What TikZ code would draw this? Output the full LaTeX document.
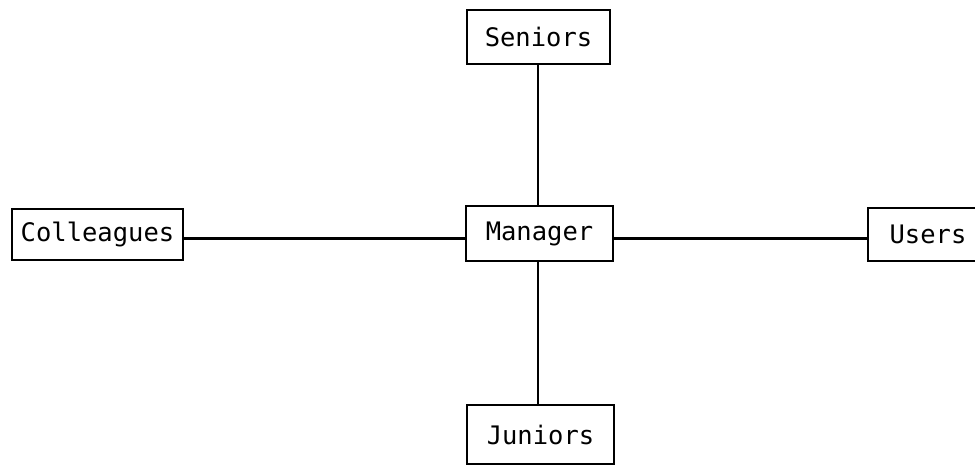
\documentclass[tikz,border=0pt]{standalone}
\usepackage{fontspec}
\setmonofont{DejaVu Sans Mono}
\begin{document}
\begin{tikzpicture}[x=1pt,y=-1pt,
    role/.style={draw, line width=2.6pt, inner sep=0pt, align=center,
      font=\ttfamily\fontsize{25.5}{30}\selectfont},
    link/.style={line width=2.6pt}]
  \useasboundingbox (0,0) rectangle (975,468);
  \clip (0,0) rectangle (975,468);

  % boxes
  \node[role, minimum width=143pt, minimum height=54pt] (seniors) at (538.5,37) {Seniors};
  \node[role, minimum width=147pt, minimum height=55pt] (manager) at (539.5,233.5) {Manager};
  \node[role, minimum width=171pt, minimum height=51pt] (colleagues) at (97.5,234.5) {Colleagues};
  \node[role, minimum width=120pt, minimum height=53pt] (users) at (928,234.5) {Users};
  \node[role, minimum width=147pt, minimum height=59pt] (juniors) at (540.5,434.5) {Juniors};

  % the spine runs straight down through the manager box
  \coordinate (spine) at ([xshift=-0.5pt]seniors.south);
  % the cross line sits a little below the box centres
  \coordinate (crossbar) at ([yshift=-5pt]manager.west);

  % connectors
  \draw[link] (spine) -- (spine |- manager.north);
  \draw[link] (spine |- manager.south) -- (spine |- juniors.north);
  \draw[link] (crossbar -| colleagues.east) -- (crossbar);
  \draw[link] (crossbar -| manager.east) -- (crossbar -| users.west);
\end{tikzpicture}
\end{document}
